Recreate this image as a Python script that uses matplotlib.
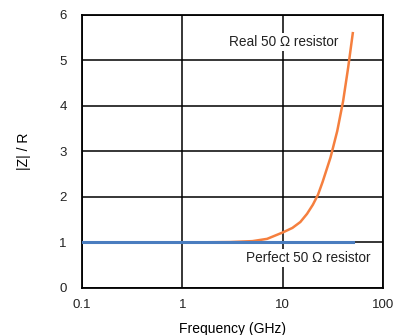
import matplotlib.pyplot as plt

plt.rcParams['font.family'] = ['Liberation Sans', 'DejaVu Sans']

# frequency sweep (GHz) and normalised impedance |Z|/R
freq_real = [0.1, 1, 3, 5, 7, 10, 12.5, 15, 17.5, 20, 22.5, 25, 30, 35, 40, 45, 50]
z_real = [1.0, 1.0, 1.01, 1.03, 1.08, 1.22, 1.32, 1.45, 1.63, 1.83, 2.05, 2.33, 2.87, 3.45, 4.1, 4.85, 5.6]

freq_ideal = [0.1, 50]
z_ideal = [1.0, 1.0]

xticks = [0.1, 1, 10, 100]
xtick_labels = ['0.1', '1', '10', '100']
yticks = [0, 1, 2, 3, 4, 5, 6]

fig = plt.figure(figsize=(3.95, 3.35), dpi=100)
ax = fig.add_axes([0.2076, 0.1403, 0.762, 0.815])

ax.plot(freq_real, z_real, color='#f57f3e', lw=1.8, zorder=3)
ax.plot(freq_ideal, z_ideal, color='#4a7dbf', lw=2.2, zorder=4)

ax.set_xscale('log')
ax.set_xlim(0.1, 100)
ax.set_ylim(0, 6)
ax.set_xticks(xticks)
ax.set_xticklabels(xtick_labels)
ax.set_yticks(yticks)
ax.minorticks_off()
ax.tick_params(length=0, labelsize=9.5, colors='#222222')
ax.tick_params(axis='x', pad=8)
ax.tick_params(axis='y', pad=11)
ax.grid(True, color='black', lw=1.1, zorder=1)
ax.set_axisbelow(True)
for s in ax.spines.values():
    s.set_linewidth(1.3)

ax.text(10.3, 5.4, 'Real 50 Ω resistor', fontsize=9.8, ha='center', va='center',
        color='#222222', bbox=dict(fc='white', ec='none', pad=1.5), zorder=2)
ax.text(17.9, 0.66, 'Perfect 50 Ω resistor', fontsize=9.8, ha='center', va='center',
        color='#222222', bbox=dict(fc='white', ec='none', pad=1.5), zorder=2)

ax.set_xlabel('Frequency (GHz)', fontsize=10, labelpad=8)
ax.set_ylabel('|Z| / R', fontsize=10, labelpad=20)

fig.savefig('out.png', dpi=100)
